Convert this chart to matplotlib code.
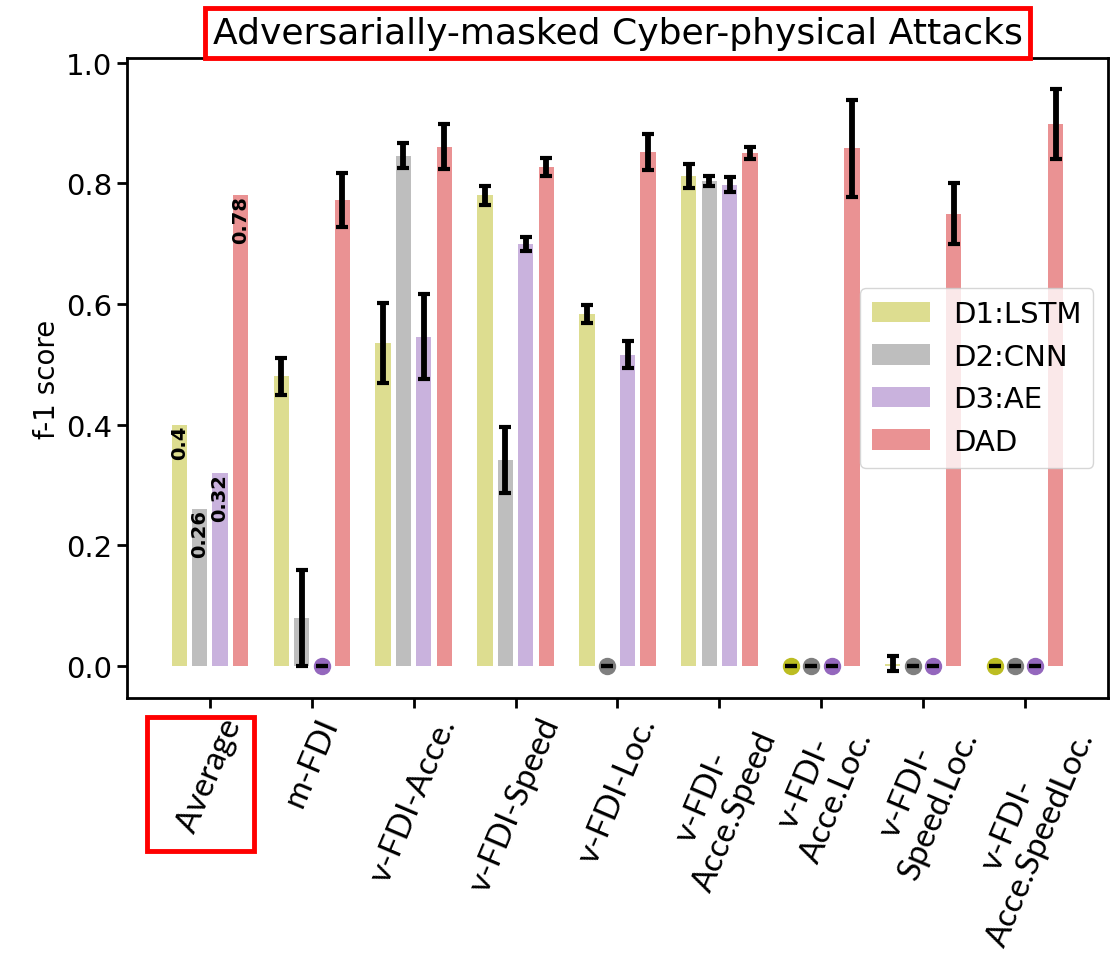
import numpy as np
import matplotlib
matplotlib.use("Agg")
import matplotlib.pyplot as plt
from matplotlib.patches import Rectangle

attacks = ["Average", "m-FDI", "v-FDI-Acce.", "v-FDI-Speed", "v-FDI-Loc.",
           "v-FDI-\nAcce.Speed", "v-FDI-\nAcce.Loc.", "v-FDI-\nSpeed.Loc.",
           "v-FDI-\nAcce.SpeedLoc."]
models = ["D1:LSTM", "D2:CNN", "D3:AE", "DAD"]
colors = ["tab:olive", "tab:gray", "tab:purple", "tab:red"]

# f-1 scores per attack (first entry is the average over attacks, no error bar)
lstm = [0.40, 0.48, 0.535, 0.78, 0.583, 0.813, 0.0, 0.004, 0.0]
cnn = [0.26, 0.08, 0.846, 0.342, 0.0, 0.804, 0.0, 0.0, 0.0]
ae = [0.32, 0.0, 0.546, 0.70, 0.516, 0.798, 0.0, 0.0, 0.0]
dad = [0.78, 0.773, 0.861, 0.827, 0.852, 0.850, 0.858, 0.750, 0.899]

lstm_err = [np.nan, 0.03, 0.066, 0.015, 0.015, 0.02, 0.0, 0.012, 0.0]
cnn_err = [np.nan, 0.08, 0.021, 0.055, 0.0, 0.008, 0.0, 0.0, 0.0]
ae_err = [np.nan, 0.0, 0.07, 0.012, 0.022, 0.013, 0.0, 0.0, 0.0]
dad_err = [np.nan, 0.045, 0.037, 0.015, 0.03, 0.01, 0.08, 0.05, 0.058]

scores = [lstm, cnn, ae, dad]
errors = [lstm_err, cnn_err, ae_err, dad_err]

fig = plt.figure(figsize=(11.12, 9.54), dpi=100)
ax = fig.add_axes([0.1142, 0.2673, 0.8822, 0.6709])

x = np.arange(len(attacks))
width = 0.15
offsets = [-0.3, -0.1, 0.1, 0.3]

for vals, errs, c, name, off in zip(scores, errors, colors, models, offsets):
    vals = np.array(vals)
    errs = np.array(errs)
    ax.bar(x + off, vals, width, color=c, alpha=0.5, label=name, zorder=2)
    # value on the average bar
    ax.text(x[0] + off, vals[0], str(round(vals[0], 2)), rotation=90,
            ha="center", va="top", fontsize=14, fontweight="bold", zorder=5)
    zero = vals == 0
    ax.plot(x[zero] + off, vals[zero], "o", color=c, ms=11.5, zorder=3)
    has_err = np.isfinite(errs)
    ax.errorbar(x[has_err] + off, vals[has_err], yerr=errs[has_err], fmt="none",
                ecolor="black", elinewidth=4.2, capsize=4, capthick=3, zorder=4)

ax.set_xlim(-0.8125, 8.8125)
ax.set_ylim(-0.053, 1.008)
ax.set_yticks([0.0, 0.2, 0.4, 0.6, 0.8, 1.0])
ax.set_xticks(x)
ax.set_xticklabels(attacks, rotation=67, fontsize=24, family="Lato")
ax.tick_params(axis="y", labelsize=21)
ax.tick_params(length=7, width=2)
for s in ax.spines.values():
    s.set_linewidth(2)

ax.set_ylabel("f-1 score", fontsize=20)
ax.set_title("Adversarially-masked Cyber-physical Attacks", fontsize=26, pad=11,
             bbox=dict(boxstyle="square,pad=0.22", fc="white", ec="red", lw=3.5))
ax.legend(loc="center right", fontsize=21)

# red frame around the "Average" tick label
fig.canvas.draw()
bb = ax.get_xticklabels()[0].get_window_extent()
inv = fig.transFigure.inverted()
(x0, y0), (x1, y1) = inv.transform([(bb.x0 - 25, bb.y0 - 15), (bb.x1 + 7, bb.y1 - 4)])
fig.add_artist(Rectangle((x0, y0), x1 - x0, y1 - y0, transform=fig.transFigure,
                         fill=False, ec="red", lw=3.5))

fig.savefig("out.png", dpi=100)
